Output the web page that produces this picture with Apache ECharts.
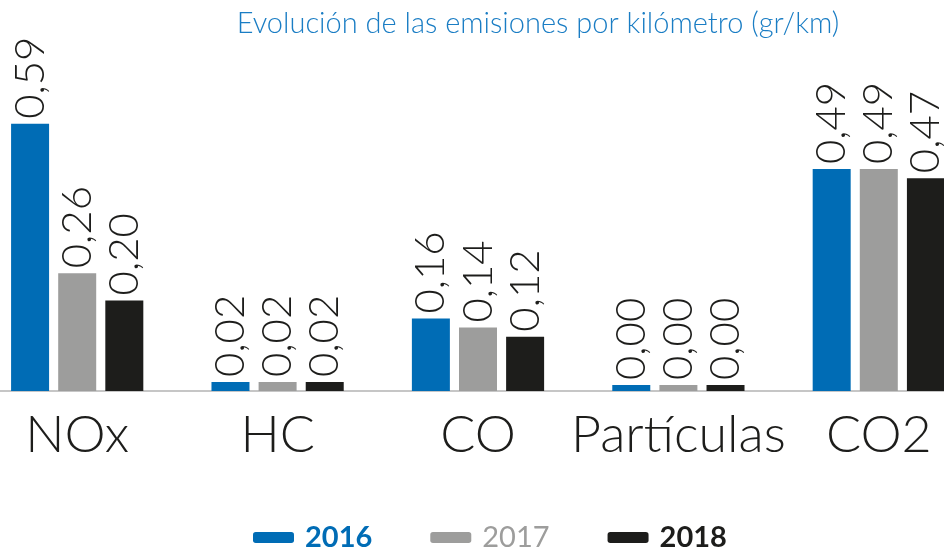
<!DOCTYPE html>
<html>
<head>
<meta charset="utf-8">
<script src="https://cdn.jsdelivr.net/npm/echarts@6/dist/echarts.min.js"></script>
<style>
  html, body { margin: 0; padding: 0; background: #fff; overflow: hidden; }
  /* el gráfico original se sale un poco por los lados */
  #chart { width: 1002px; height: 550px; margin-left: -23px; }
</style>
</head>
<body>
<div id="chart"></div>
<script>
// datos (gr/km)
var categorias = ['NOx', 'HC', 'CO', 'Partículas', 'CO2'];
var anios = ['2016', '2017', '2018'];
var valores2016 = [0.59, 0.02, 0.16, 0.004, 0.49];
var valores2017 = [0.26, 0.02, 0.14, 0.004, 0.49];
var valores2018 = [0.20, 0.02, 0.12, 0.004, 0.47];
var colores = ['#006cb5', '#9d9d9c', '#1d1d1b'];

var myChart = echarts.init(document.getElementById('chart'));

function serie(nombre, datos, color) {
  return {
    name: nombre,
    type: 'bar',
    data: datos,
    barWidth: 38,
    barGap: '24%',
    barMinHeight: 6,
    itemStyle: { color: color },
    label: {
      show: true,
      position: 'top',
      rotate: 90,
      align: 'left',
      verticalAlign: 'middle',
      distance: 5,
      fontFamily: 'Lato',
      fontWeight: 300,
      fontSize: 42,
      color: '#1d1d1b',
      formatter: function (p) { return p.value.toFixed(2).replace('.', ','); }
    }
  };
}

var option = {
  animation: false,
  title: {
    text: 'Evolución de las emisiones por kilómetro (gr/km)',
    left: 556,
    textAlign: 'center',
    top: 4,
    textStyle: { fontFamily: 'Lato', fontWeight: 300, fontSize: 29, color: '#1a7dc4' }
  },
  legend: {
    top: 518,
    left: 271,
    itemWidth: 41,
    itemHeight: 11,
    itemGap: 58,
    data: [
      { name: '2016', textStyle: { color: '#006cb5', fontWeight: 'bold' } },
      { name: '2017', textStyle: { color: '#9d9d9c', fontWeight: 'normal' } },
      { name: '2018', textStyle: { color: '#1d1d1b', fontWeight: 'bold' } }
    ],
    textStyle: { fontFamily: 'Lato', fontSize: 29, padding: [0, 0, 0, 6] }
  },
  grid: { left: 0, right: 0, top: 74, bottom: 159, containLabel: false },
  xAxis: {
    type: 'category',
    data: categorias,
    axisLine: { lineStyle: { color: '#c6c6c6', width: 2 } },
    axisTick: { show: false },
    axisLabel: {
      interval: 0,
      margin: 18,
      fontFamily: 'Lato',
      fontWeight: 300,
      fontSize: 52,
      color: '#1d1d1b'
    }
  },
  yAxis: {
    type: 'value',
    min: 0,
    max: 0.7,
    show: false,
    splitLine: { show: false }
  },
  series: [
    serie(anios[0], valores2016, colores[0]),
    serie(anios[1], valores2017, colores[1]),
    serie(anios[2], valores2018, colores[2])
  ]
};

myChart.setOption(option);
</script>
</body>
</html>
